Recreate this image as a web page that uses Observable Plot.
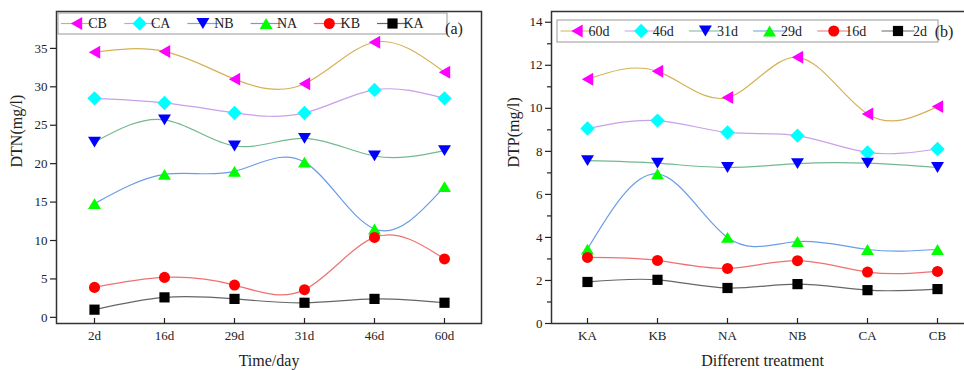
<!DOCTYPE html>
<html><head><meta charset="utf-8">
<script src="https://cdn.jsdelivr.net/npm/d3@7"></script>
<script src="https://cdn.jsdelivr.net/npm/@observablehq/plot@0.6"></script>
<style>
html,body{margin:0;padding:0;background:#fff;overflow:hidden;width:964px;height:370px}
#wrap{position:relative;width:964px;height:370px;overflow:hidden}
#a{position:absolute;left:0;top:0;width:484px;height:370px}
#b{position:absolute;left:484px;top:0;width:480px;height:370px;overflow:hidden}
svg{display:block;max-width:none !important}
</style></head><body><div id="wrap"><div id="a"></div><div id="b"></div></div>
<script>
// ---- data ----
const days = ["2d", "16d", "29d", "31d", "46d", "60d"];
const treatments = ["KA", "KB", "NA", "NB", "CA", "CB"];
const seriesA = ["CB", "CA", "NB", "NA", "KB", "KA"];
const seriesB = ["60d", "46d", "31d", "29d", "16d", "2d"];

// (a) DTN (mg/l) by day
const dtnCB = [34.5, 34.6, 31.0, 30.4, 35.8, 31.9];
const dtnCA = [28.5, 27.9, 26.6, 26.6, 29.6, 28.5];
const dtnNB = [22.8, 25.7, 22.3, 23.3, 21.0, 21.7];
const dtnNA = [14.8, 18.6, 19.0, 20.2, 11.5, 17.0];
const dtnKB = [3.9, 5.2, 4.2, 3.6, 10.4, 7.6];
const dtnKA = [1.0, 2.6, 2.4, 1.9, 2.4, 1.9];

// (b) DTP (mg/l) by treatment
const dtp60d = [11.35, 11.72, 10.5, 12.37, 9.74, 10.08];
const dtp46d = [9.06, 9.43, 8.88, 8.73, 7.95, 8.11];
const dtp31d = [7.57, 7.45, 7.25, 7.43, 7.45, 7.25];
const dtp29d = [3.46, 6.95, 4.0, 3.81, 3.44, 3.44];
const dtp16d = [3.07, 2.93, 2.56, 2.92, 2.39, 2.42];
const dtp2d = [1.93, 2.03, 1.65, 1.83, 1.55, 1.6];

const yTicksA = [0, 5, 10, 15, 20, 25, 30, 35];
const yTicksB = [0, 2, 4, 6, 8, 10, 12, 14];
const yMinorB = [1, 3, 5, 7, 9, 11, 13];

// ---- symbols ----
function poly(pts) {
  return {draw(ctx, size) {
    const r = Math.sqrt(size / Math.PI);
    pts.forEach(([x, y], i) => i ? ctx.lineTo(x * r, y * r) : ctx.moveTo(x * r, y * r));
    ctx.closePath();
  }};
}
const symLeft = poly([[-0.95, 0], [0.95, -1.08], [0.95, 1.08]]);
const symDiamond = poly([[0, -1.2], [1.2, 0], [0, 1.2], [-1.2, 0]]);
const symDown = poly([[-1.08, -0.9], [1.08, -0.9], [0, 0.9]]);
const symUp = poly([[0, -0.9], [1.08, 0.9], [-1.08, 0.9]]);
const symCircle = {draw(ctx, size) { const r = Math.sqrt(size / Math.PI) * 0.92; ctx.moveTo(r, 0); ctx.arc(0, 0, r, 0, 2 * Math.PI); }};
const symSquare = poly([[-0.85, -0.85], [0.85, -0.85], [0.85, 0.85], [-0.85, 0.85]]);

const styles = [
  {line: "#d4b254", fill: "#ff00ff", sym: symLeft},
  {line: "#c9a0e8", fill: "#00ffff", sym: symDiamond},
  {line: "#72b98f", fill: "#0000ff", sym: symDown},
  {line: "#6a9de8", fill: "#00ff00", sym: symUp},
  {line: "#f07070", fill: "#ff0000", sym: symCircle},
  {line: "#666666", fill: "#000000", sym: symSquare}
];
const R = 6;
const FONT = "Liberation Serif, Times New Roman, serif";

function panel(o) {
  const marks = [];
  o.values.forEach((vals, i) => {
    const data = o.xDomain.map((x, j) => ({x, y: vals[j]}));
    marks.push(Plot.line(data, {x: "x", y: "y", curve: "natural", stroke: styles[i].line, strokeWidth: 1.2}));
  });
  o.values.forEach((vals, i) => {
    const data = o.xDomain.map((x, j) => ({x, y: vals[j]}));
    marks.push(Plot.dot(data, {x: "x", y: "y", r: R, symbol: styles[i].sym, fill: styles[i].fill, stroke: "none"}));
  });
  marks.push(
    Plot.frame({stroke: "#333", strokeWidth: 1.5}),
    Plot.axisY({ticks: o.yTicks, tickSize: 6, tickPadding: 3, label: null, strokeWidth: 1.2}),
    Plot.axisX({tickSize: 5, dy: -5, fill: "none", label: null, strokeWidth: 1.2}),
    Plot.axisX({tickSize: 0, tickPadding: 7, label: null}),
    Plot.text([o.yLabel], {text: d => d, frameAnchor: "left", rotate: -90, dx: o.yLabelDx, lineAnchor: "bottom", fontSize: 16}),
    Plot.text([o.xLabel], {text: d => d, frameAnchor: "bottom", dy: 42, lineAnchor: "bottom", fontSize: 16})
  );
  if (o.minor) marks.push(Plot.axisY({ticks: o.minor, tickSize: 4, fill: "none", label: null, strokeWidth: 1.2}));
  const svg = Plot.plot({
    width: o.width, height: 370,
    marginLeft: o.marginLeft, marginRight: 3, marginTop: 11, marginBottom: 47,
    style: {fontFamily: FONT, fontSize: "13px", color: "#222", background: "transparent"},
    x: {type: "point", domain: o.xDomain, padding: 0.5},
    y: {domain: o.yDomain},
    marks
  });
  // legend inside the frame
  const g = d3.select(svg).append("g").attr("font-family", FONT).attr("font-size", 14).attr("fill", "#222");
  const L = o.legend;
  g.append("rect").attr("x", L.x0).attr("y", L.y0).attr("width", L.x1 - L.x0).attr("height", L.y1 - L.y0)
    .attr("fill", "#fff").attr("stroke", "#999").attr("stroke-width", 1);
  const cy = (L.y0 + L.y1) / 2;
  o.names.forEach((name, i) => {
    const mx = L.first + i * L.step;
    g.append("line").attr("x1", mx - L.half).attr("x2", mx + L.half).attr("y1", cy).attr("y2", cy)
      .attr("stroke", styles[i].line).attr("stroke-width", 1.2);
    g.append("path").attr("d", d3.symbol(styles[i].sym, R * R * Math.PI)())
      .attr("transform", `translate(${mx},${cy})`).attr("fill", styles[i].fill);
    g.append("text").attr("x", mx + L.textOff).attr("y", cy + 4.7).text(name);
  });
  g.append("text").attr("x", o.tag.x).attr("y", o.tag.y).attr("font-size", 16).text(o.tag.text);
  return svg;
}

document.getElementById("a").append(panel({
  width: 484, marginLeft: 56,
  xDomain: days, yDomain: [-0.8, 39.8], yTicks: yTicksA,
  values: [dtnCB, dtnCA, dtnNB, dtnNA, dtnKB, dtnKA], names: seriesA,
  yLabel: "DTN(mg/l)", yLabelDx: -35, xLabel: "Time/day",
  legend: {x0: 58, x1: 447, y0: 13, y1: 34, first: 76.5, step: 63.2, half: 15.5, textOff: 21},
  tag: {x: 454, y: 34, text: "(a)"}
}));

const OFF = 484;
document.getElementById("b").append(panel({
  width: 492, marginLeft: 67,
  xDomain: treatments, yDomain: [0, 14.5], yTicks: yTicksB, minor: yMinorB,
  values: [dtp60d, dtp46d, dtp31d, dtp29d, dtp16d, dtp2d], names: seriesB,
  yLabel: "DTP(mg/l)", yLabelDx: -33, xLabel: "Different treatment",
  legend: {x0: 557 - OFF, x1: 938 - OFF, y0: 20, y1: 42, first: 577 - OFF, step: 64.2, half: 16.5, textOff: 22},
  tag: {x: 944 - OFF, y: 37, text: "(b)"}
}));
</script>
</body></html>
